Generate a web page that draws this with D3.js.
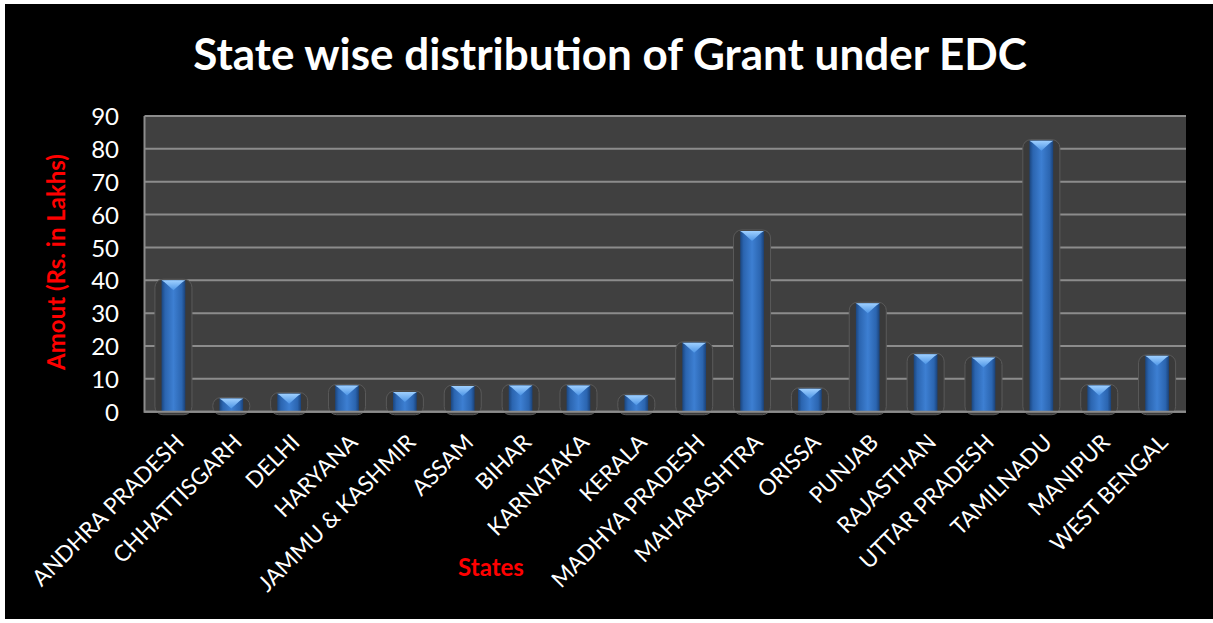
<!DOCTYPE html>
<html><head><meta charset="utf-8">
<script src="https://cdn.jsdelivr.net/npm/d3@7"></script>
<style>html,body{margin:0;padding:0;background:#fff;}svg{display:block;}</style>
</head><body>
<svg id="chart" width="1213" height="623"></svg>
<script>
const states = ["ANDHRA PRADESH","CHHATTISGARH","DELHI","HARYANA","JAMMU & KASHMIR","ASSAM","BIHAR","KARNATAKA","KERALA","MADHYA PRADESH","MAHARASHTRA","ORISSA","PUNJAB","RAJASTHAN","UTTAR PRADESH","TAMILNADU","MANIPUR","WEST BENGAL"];
const amounts = [40,4,5.5,8,6,7.8,8,8,5,21,55,7,33,17.5,16.5,82.5,8,17];
const yTicks = [0,10,20,30,40,50,60,70,80,90];
const titleText = "State wise distribution of Grant under EDC";
const yTitle = "Amout (Rs. in Lakhs)";
const xTitle = "States";

const svg = d3.select("#chart");
const font = "Lato, 'Open Sans', sans-serif";
svg.append("rect").attr("x",5).attr("y",4).attr("width",1208).attr("height",615).attr("fill","#000");

const m = {left:144.5, right:1186, top:116, bottom:411.7};
const x = d3.scaleBand().domain(states).range([m.left,m.right]).paddingInner(0).paddingOuter(0);
const y = d3.scaleLinear().domain([0,90]).range([m.bottom,m.top]);

const defs = svg.append("defs");
const g1 = defs.append("linearGradient").attr("id","barGrad").attr("x1","0").attr("x2","1").attr("y1","0").attr("y2","0");
[[0,"#1b467f"],[0.15,"#2b65b0"],[0.5,"#3d7fd2"],[0.85,"#2b65b0"],[1,"#1a4279"]].forEach(s=>g1.append("stop").attr("offset",s[0]).attr("stop-color",s[1]));
const g2 = defs.append("linearGradient").attr("id","capGrad").attr("x1","0").attr("x2","0").attr("y1","0").attr("y2","1");
[[0,"#9fd0ff"],[1,"#4d95e6"]].forEach(s=>g2.append("stop").attr("offset",s[0]).attr("stop-color",s[1]));

// plot background
svg.append("rect").attr("x",m.left).attr("y",m.top).attr("width",m.right-m.left).attr("height",m.bottom-m.top).attr("fill","#404040");

// gridlines
svg.append("g").selectAll("line").data(yTicks).join("line")
  .attr("x1",m.left).attr("x2",m.right).attr("y1",d=>y(d)).attr("y2",d=>y(d))
  .attr("stroke","#8c8c8c").attr("stroke-width",2);
// left axis line
svg.append("line").attr("x1",m.left).attr("x2",m.left).attr("y1",m.top).attr("y2",m.bottom+1).attr("stroke","#8c8c8c").attr("stroke-width",2);

// y tick labels
const yAxis = d3.axisLeft(y).tickValues(yTicks).tickSize(0).tickPadding(0);
const ya = svg.append("g").attr("transform",`translate(119,0)`).call(yAxis);
ya.select(".domain").remove();
ya.selectAll("text").attr("fill","#fff").attr("font-family",font).attr("font-size",24).attr("dy","0.36em");

const bw = x.bandwidth()*0.41;
const hw = x.bandwidth()*0.64;
const bars = svg.append("g").selectAll("g").data(states.map((s,i)=>({s,v:amounts[i]}))).join("g");
// halo
bars.append("rect")
  .attr("x",d=>x(d.s)+x.bandwidth()/2-hw/2).attr("width",hw)
  .attr("y",d=>y(d.v)-1).attr("height",d=>m.bottom-y(d.v)+4)
  .attr("rx",8).attr("fill","#3a3a3a").attr("stroke","#5a5a5a").attr("stroke-width",1);
bars.append("rect")
  .attr("x",d=>x(d.s)+x.bandwidth()/2-bw/2).attr("width",bw)
  .attr("y",d=>y(d.v)).attr("height",d=>m.bottom-y(d.v))
  .attr("fill","url(#barGrad)");
bars.append("path")
  .attr("d",d=>{const cx=x(d.s)+x.bandwidth()/2, t=y(d.v); return `M${cx-bw/2},${t}L${cx+bw/2},${t}L${cx+bw/2-3},${t+2}L${cx},${t+10}L${cx-bw/2+3},${t+2}Z`;})
  .attr("fill","url(#capGrad)");
// redraw bottom axis line
svg.append("line").attr("x1",m.left).attr("x2",m.right).attr("y1",m.bottom).attr("y2",m.bottom).attr("stroke","#8c8c8c").attr("stroke-width",2);

// x labels
const xAxis = d3.axisBottom(x).tickSize(0).tickPadding(0);
const xa = svg.append("g").attr("transform",`translate(0,${m.bottom})`).call(xAxis);
xa.select(".domain").remove();
xa.selectAll("text").attr("fill","#fff").attr("font-family",font).attr("font-size",22.5)
  .attr("text-anchor","end").attr("dy",null).attr("y",0)
  .attr("transform","translate(12,32) rotate(-45)");

// titles
svg.append("text").attr("x",610).attr("y",70).attr("text-anchor","middle").attr("fill","#fff")
  .attr("font-family",font).attr("font-weight","bold").attr("font-size",44).text(titleText);
svg.append("text").attr("transform","translate(65,262) rotate(-90)").attr("text-anchor","middle").attr("fill","#ff0000")
  .attr("font-family",font).attr("font-weight","bold").attr("font-size",24).text(yTitle);
svg.append("text").attr("x",491).attr("y",576).attr("text-anchor","middle").attr("fill","#ff0000")
  .attr("font-family",font).attr("font-weight","bold").attr("font-size",24).text(xTitle);
</script>
</body></html>
